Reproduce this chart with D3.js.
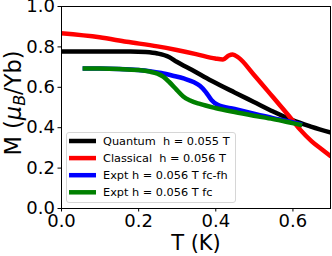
<!DOCTYPE html>
<html lang="en">
<head>
<meta charset="utf-8">
<title>M vs T</title>
<style>
  body { margin: 0; background: #fff; }
  svg { display: block; font-family: "DejaVu Sans", sans-serif; }
  .axis path, .axis line { stroke: #000; stroke-width: 1; }
  .series { fill: none; stroke-width: 4.5; stroke-linejoin: round; stroke-linecap: butt; }
  .legend text { white-space: pre; }
</style>
</head>
<body>
<svg width="332" height="256"></svg>
<script src="https://d3js.org/d3.v7.min.js"></script>
<script>
// series
var quantumT = [0, 0.10, 0.18, 0.22, 0.25, 0.28, 0.30, 0.34, 0.39, 0.45, 0.50, 0.55, 0.60, 0.65, 0.70];
var quantumM = [0.775, 0.775, 0.775, 0.772, 0.765, 0.748, 0.724, 0.683, 0.630, 0.572, 0.525, 0.478, 0.435, 0.402, 0.373];

var classicalT = [0, 0.10, 0.17, 0.25, 0.30, 0.35, 0.40, 0.42, 0.435, 0.445, 0.46, 0.50, 0.55, 0.60, 0.62, 0.65, 0.68, 0.70];
var classicalM = [0.865, 0.845, 0.823, 0.80, 0.782, 0.762, 0.740, 0.735, 0.755, 0.760, 0.745, 0.660, 0.548, 0.435, 0.388, 0.330, 0.285, 0.255];

var fcfhT = [0.056, 0.10, 0.15, 0.20, 0.23, 0.26, 0.29, 0.32, 0.345, 0.36, 0.375, 0.39, 0.405, 0.45, 0.50, 0.55, 0.60, 0.625];
var fcfhM = [0.69, 0.69, 0.688, 0.683, 0.677, 0.668, 0.655, 0.640, 0.622, 0.605, 0.575, 0.535, 0.512, 0.490, 0.467, 0.445, 0.425, 0.412];

var fcT = [0.056, 0.10, 0.15, 0.20, 0.23, 0.25, 0.265, 0.28, 0.30, 0.317, 0.335, 0.36, 0.40, 0.45, 0.50, 0.55, 0.60, 0.625];
var fcM = [0.69, 0.69, 0.688, 0.683, 0.675, 0.665, 0.650, 0.625, 0.585, 0.552, 0.532, 0.515, 0.495, 0.475, 0.457, 0.440, 0.420, 0.410];

var labels = ["Quantum  h = 0.055 T", "Classical  h = 0.056 T", "Expt h = 0.056 T fc-fh", "Expt h = 0.056 T fc"];
var colors = ["#000000", "#ff0000", "#0000ff", "#008000"];
var xTicks = [0, 0.2, 0.4, 0.6];
var yTicks = [0, 0.2, 0.4, 0.6, 0.8, 1.0];

var svg = d3.select("svg");
var mLeft = 61, mRight = 331, mTop = 6, mBottom = 208;

var x = d3.scaleLinear().domain([0, 0.7]).range([mLeft, mRight]);
var y = d3.scaleLinear().domain([0, 1]).range([mBottom, mTop]);

var series = [
  {T: quantumT, M: quantumM},
  {T: classicalT, M: classicalM},
  {T: fcfhT, M: fcfhM},
  {T: fcT, M: fcM}
];

var line = d3.line()
    .x(function(d) { return x(d[0]); })
    .y(function(d) { return y(d[1]); })
    .curve(d3.curveMonotoneX);

svg.append("defs").append("clipPath").attr("id", "clip")
  .append("rect").attr("x", mLeft).attr("y", mTop).attr("width", mRight - mLeft).attr("height", mBottom - mTop);

svg.append("g").attr("clip-path", "url(#clip)")
  .selectAll("path")
  .data(series)
  .enter().append("path")
    .attr("class", "series")
    .attr("stroke", function(d, i) { return colors[i]; })
    .attr("d", function(d) { return line(d3.zip(d.T, d.M)); });

// axes
svg.append("g").attr("class", "axis")
    .attr("transform", "translate(0," + mBottom + ")")
    .call(d3.axisBottom(x).tickValues(xTicks).tickFormat(d3.format(".1f")).tickSize(3.5).tickPadding(3));
svg.append("g").attr("class", "axis")
    .attr("transform", "translate(" + mLeft + ",0)")
    .call(d3.axisLeft(y).tickValues(yTicks).tickFormat(d3.format(".1f")).tickSize(3.5).tickPadding(2.5));
svg.selectAll(".axis path.domain").remove();
svg.selectAll(".axis text").attr("font-size", 18).attr("font-family", "DejaVu Sans").attr("fill", "#000");

// spines
svg.append("rect")
    .attr("x", mLeft + 0.5).attr("y", mTop + 0.5)
    .attr("width", mRight - mLeft - 1).attr("height", mBottom - mTop)
    .attr("fill", "none").attr("stroke", "#000").attr("stroke-width", 1);

// axis labels
svg.append("text")
    .attr("x", (mLeft + mRight) / 2).attr("y", 250)
    .attr("text-anchor", "middle").attr("font-size", 21)
    .text("T (K)");

var yl = svg.append("text")
    .attr("transform", "translate(21,103) rotate(-90)")
    .attr("text-anchor", "middle").attr("font-size", 22.5);
yl.append("tspan").text("M (");
yl.append("tspan").attr("font-style", "italic").text("\u03bc");
yl.append("tspan").attr("font-style", "italic").attr("font-size", 16).attr("dy", 4).text("B");
yl.append("tspan").attr("dy", -4).text("/Yb)");

// legend
var lg = svg.append("g").attr("class", "legend").attr("transform", "translate(66,132)");
lg.append("rect")
    .attr("x", 0.5).attr("y", 0.5).attr("width", 169).attr("height", 70).attr("rx", 2.5)
    .attr("fill", "#fff").attr("fill-opacity", 0.8)
    .attr("stroke", "#d6d6d6").attr("stroke-width", 1);
var rows = lg.selectAll("g.row").data(labels).enter().append("g")
    .attr("class", "row")
    .attr("transform", function(d, i) { return "translate(0," + (9 + i * 17.1) + ")"; });
rows.append("line")
    .attr("x1", 3).attr("x2", 30).attr("y1", 0).attr("y2", 0)
    .attr("stroke", function(d, i) { return colors[i]; })
    .attr("stroke-width", 4.5);
rows.append("text")
    .attr("x", 37).attr("y", 4)
    .attr("font-size", 11.3)
    .text(function(d) { return d; });
</script>
</body>
</html>
